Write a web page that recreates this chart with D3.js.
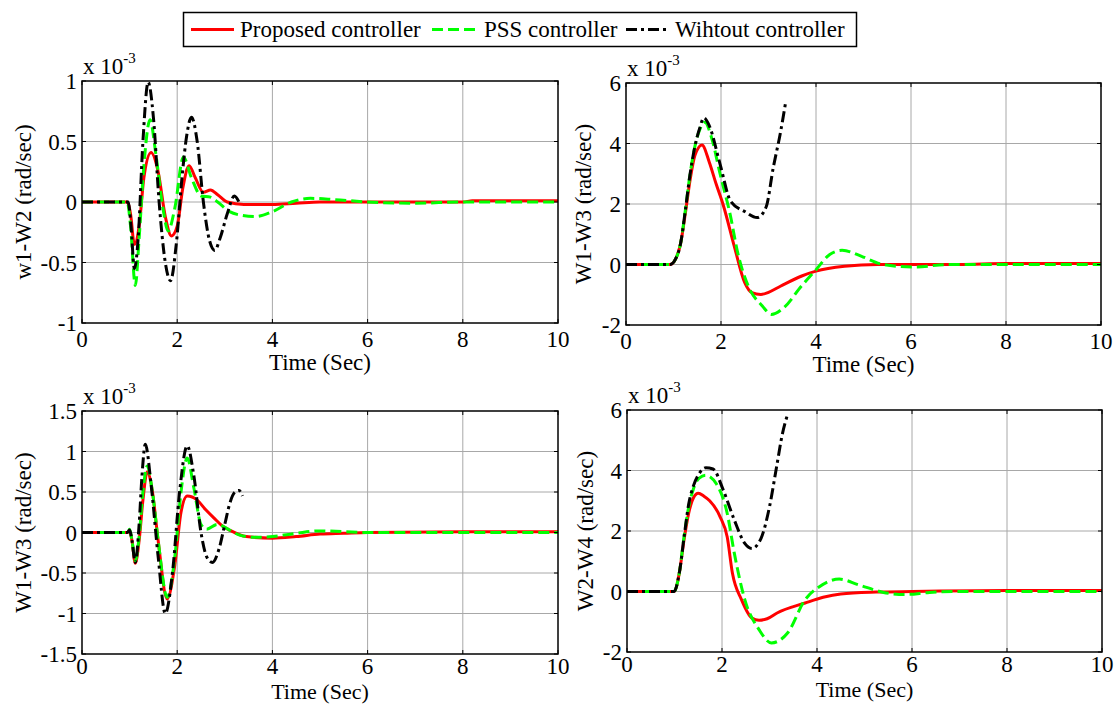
<!DOCTYPE html>
<html>
<head>
<meta charset="utf-8">
<script src="https://cdn.jsdelivr.net/npm/d3@7"></script>
<style>
  html, body { margin: 0; padding: 0; background: #fff; }
</style>
</head>
<body>
<svg id="chart" width="1117" height="704"></svg>
<script>
// ---------------- DATA ----------------
const seriesNames = ["Proposed controller", "PSS controller", "Wihtout controller"];
const xTicks = [0, 2, 4, 6, 8, 10];
const yLabels = ["w1-W2 (rad/sec)", "W1-W3 (rad/sec)", "W1-W3 (rad/sec)", "W2-W4 (rad/sec)"];
const xLabel = "Time (Sec)";
const yDomains = [[-1, 1], [-2, 6], [-1.5, 1.5], [-2, 6]];
const yTicks1 = [-1, -0.5, 0, 0.5, 1];
const yTicks2 = [-2, 0, 2, 4, 6];
const yTicks3 = [-1.5, -1, -0.5, 0, 0.5, 1, 1.5];
const yTicks4 = [-2, 0, 2, 4, 6];

// Panel 1: w1-W2 (x 1e-3)
const p1PropT = [0, 0.95, 1.02, 1.1, 1.2, 1.3, 1.45, 1.6, 1.75, 1.88, 2.0, 2.12, 2.25, 2.38, 2.55, 2.7, 2.85, 3.05, 3.4, 4.0, 4.5, 5, 6, 8, 8.2, 10];
const p1Prop  = [0, 0, -0.1, -0.35, -0.2, 0.2, 0.41, 0.25, -0.12, -0.28, -0.2, 0.12, 0.3, 0.2, 0.08, 0.1, 0.06, 0.0, -0.02, -0.02, -0.01, 0, 0, 0, 0.01, 0.01];
const p1PssT  = [0, 0.95, 1.02, 1.12, 1.2, 1.3, 1.43, 1.55, 1.7, 1.81, 1.95, 2.13, 2.3, 2.5, 2.7, 2.85, 3.1, 3.35, 3.65, 4.0, 4.4, 4.8, 5.3, 6, 7, 8, 10];
const p1Pss   = [0, 0, -0.2, -0.69, -0.3, 0.3, 0.68, 0.4, -0.05, -0.24, -0.05, 0.37, 0.2, 0.05, 0.04, 0.0, -0.08, -0.11, -0.12, -0.08, 0.0, 0.03, 0.02, 0, -0.01, 0, 0];
const p1NoT   = [0, 0.97, 1.03, 1.1, 1.18, 1.28, 1.39, 1.5, 1.62, 1.75, 1.86, 1.98, 2.1, 2.2, 2.3, 2.42, 2.55, 2.68, 2.79, 2.9, 3.05, 3.2, 3.32];
const p1No    = [0, 0, -0.2, -0.55, -0.3, 0.5, 0.99, 0.7, 0.0, -0.5, -0.65, -0.35, 0.2, 0.55, 0.7, 0.5, 0.0, -0.32, -0.4, -0.3, -0.1, 0.05, -0.02];

// Panel 2: W1-W3 (x 1e-3)
const p2PropT = [0, 0.93, 1.05, 1.15, 1.25, 1.35, 1.45, 1.6, 1.75, 1.9, 2.05, 2.28, 2.5, 2.65, 2.84, 3.0, 3.25, 3.7, 4.0, 4.6, 5.3, 6, 7, 8, 10];
const p2Prop  = [0, 0, 0.2, 0.7, 1.7, 2.8, 3.6, 3.95, 3.4, 2.65, 1.95, 0.6, -0.6, -0.93, -0.99, -0.92, -0.72, -0.38, -0.22, -0.06, 0, 0, 0, 0.03, 0.03];
const p2PssT  = [0, 0.93, 1.05, 1.15, 1.25, 1.35, 1.45, 1.55, 1.66, 1.8, 1.98, 2.2, 2.35, 2.57, 2.87, 3.06, 3.32, 3.69, 4.0, 4.29, 4.55, 4.96, 5.34, 5.7, 6.08, 6.8, 8, 10];
const p2Pss   = [0, 0, 0.2, 0.7, 1.8, 3.0, 3.9, 4.45, 4.7, 4.2, 3.0, 1.6, 0.4, -0.7, -1.37, -1.65, -1.43, -0.72, -0.17, 0.33, 0.47, 0.27, 0.03, -0.06, -0.08, 0.0, 0.0, 0.0];
const p2NoT   = [0, 0.93, 1.05, 1.15, 1.25, 1.35, 1.45, 1.55, 1.64, 1.75, 1.98, 2.2, 2.5, 2.76, 2.95, 3.1, 3.25, 3.36];
const p2No    = [0, 0, 0.2, 0.7, 1.8, 3.0, 3.9, 4.5, 4.85, 4.6, 3.32, 2.1, 1.75, 1.55, 1.9, 3.2, 4.35, 5.35];

// Panel 3: W1-W3 (x 1e-3)
const p3PropT = [0, 0.95, 1.0, 1.05, 1.12, 1.2, 1.28, 1.37, 1.48, 1.6, 1.79, 1.95, 2.08, 2.21, 2.42, 2.6, 2.77, 2.95, 3.1, 3.45, 4.0, 4.5, 5.0, 5.5, 6, 8, 10];
const p3Prop  = [0, 0, 0.02, -0.1, -0.38, -0.1, 0.4, 0.75, 0.5, -0.1, -0.82, -0.4, 0.25, 0.45, 0.4, 0.28, 0.18, 0.08, 0.03, -0.05, -0.07, -0.05, -0.02, -0.01, 0, 0.01, 0.01];
const p3PssT  = [0, 0.95, 1.0, 1.05, 1.12, 1.2, 1.28, 1.37, 1.48, 1.6, 1.79, 1.95, 2.08, 2.21, 2.35, 2.5, 2.62, 2.84, 3.1, 3.3, 3.62, 4.0, 4.5, 5.0, 5.5, 6, 8, 10];
const p3Pss   = [0, 0, 0.04, -0.1, -0.35, -0.05, 0.5, 0.82, 0.5, -0.1, -0.8, -0.3, 0.5, 0.92, 0.55, 0.1, 0.04, 0.1, 0.03, -0.03, -0.06, -0.05, -0.01, 0.02, 0.01, 0, 0, 0];
const p3NoT   = [0, 0.95, 1.0, 1.05, 1.12, 1.2, 1.26, 1.33, 1.45, 1.6, 1.75, 1.9, 2.05, 2.21, 2.35, 2.5, 2.62, 2.74, 2.88, 3.0, 3.1, 3.2, 3.3, 3.37];
const p3No    = [0, 0, 0.03, -0.1, -0.37, 0.1, 0.7, 1.09, 0.6, -0.3, -1.0, -0.5, 0.5, 1.07, 0.7, 0.0, -0.3, -0.37, -0.2, 0.1, 0.35, 0.49, 0.52, 0.45];

// Panel 4: W2-W4 (x 1e-3)
const p4PropT = [0, 0.99, 1.1, 1.2, 1.3, 1.4, 1.5, 1.62, 1.74, 1.96, 2.11, 2.22, 2.41, 2.63, 2.78, 2.95, 3.16, 3.75, 4.13, 4.5, 5.25, 6, 8, 10];
const p4Prop  = [0, 0, 0.6, 1.7, 2.6, 3.1, 3.25, 3.15, 3.0, 2.47, 1.8, 0.6, -0.27, -0.88, -0.95, -0.9, -0.71, -0.38, -0.19, -0.08, -0.02, 0, 0.03, 0.03];
const p4PssT  = [0, 0.99, 1.1, 1.2, 1.3, 1.4, 1.52, 1.66, 1.88, 2.11, 2.26, 2.48, 2.78, 3.04, 3.38, 3.75, 4.05, 4.47, 4.88, 5.4, 5.85, 6.37, 7, 8, 10];
const p4Pss   = [0, 0, 0.6, 1.8, 2.8, 3.4, 3.75, 3.84, 3.56, 2.58, 1.26, -0.27, -1.26, -1.7, -1.37, -0.27, 0.16, 0.41, 0.22, -0.03, -0.1, -0.03, 0.0, 0.0, 0.0];
const p4NoT   = [0, 0.99, 1.1, 1.21, 1.3, 1.4, 1.52, 1.66, 1.81, 2.03, 2.26, 2.48, 2.63, 2.82, 3.0, 3.16, 3.27, 3.37];
const p4No    = [0, 0, 0.6, 1.9, 2.9, 3.5, 3.9, 4.09, 4.05, 3.34, 2.36, 1.59, 1.42, 1.75, 2.8, 4.22, 5.2, 5.8];

// ---------------- LAYOUT / STYLE ----------------
const FONT_FAMILY = "'Liberation Serif', 'Times New Roman', Times, 'DejaVu Serif', serif";
const styles = [
  { color: "#ff0000", dash: null },
  { color: "#00ff00", dash: "11,5" },
  { color: "#000000", dash: "11,4,3,4" }
];
const panels = [
  { box: [82, 558, 81, 323], yTicks: yTicks1, ylx: 31, tkY: 24, xlY: 47, xlF: 23, series: [[p1PropT, p1Prop], [p1PssT, p1Pss], [p1NoT, p1No]] },
  { box: [626, 1101, 83, 325], yTicks: yTicks2, ylx: 591, tkY: 24, xlY: 47, xlF: 23, series: [[p2PropT, p2Prop], [p2PssT, p2Pss], [p2NoT, p2No]] },
  { box: [82, 558, 411, 654], yTicks: yTicks3, ylx: 31, tkY: 20, xlY: 45, xlF: 22, series: [[p3PropT, p3Prop], [p3PssT, p3Pss], [p3NoT, p3No]] },
  { box: [627, 1102, 410, 652], yTicks: yTicks4, ylx: 593, tkY: 20, xlY: 45, xlF: 22, series: [[p4PropT, p4Prop], [p4PssT, p4Pss], [p4NoT, p4No]] }
];

const svg = d3.select("#chart").attr("font-family", FONT_FAMILY);
const defs = svg.append("defs");
const FONT = 23;

panels.forEach((p, i) => {
  const [x0, x1, y0, y1] = p.box;
  const x = d3.scaleLinear().domain([0, 10]).range([x0, x1]);
  const y = d3.scaleLinear().domain(yDomains[i]).range([y1, y0]);
  const g = svg.append("g");

  // grid
  g.selectAll(".gx").data(xTicks.filter(t => t > 0 && t < 10)).enter().append("line")
    .attr("x1", d => x(d)).attr("x2", d => x(d)).attr("y1", y0).attr("y2", y1)
    .attr("stroke", "#a8a8a8").attr("stroke-width", 1);
  const yd = yDomains[i];
  g.selectAll(".gy").data(p.yTicks.filter(t => t > yd[0] && t < yd[1])).enter().append("line")
    .attr("x1", x0).attr("x2", x1).attr("y1", d => y(d)).attr("y2", d => y(d))
    .attr("stroke", "#a8a8a8").attr("stroke-width", 1);

  // clip
  defs.append("clipPath").attr("id", "clip" + i).append("rect")
    .attr("x", x0).attr("y", y0 - 1).attr("width", x1 - x0).attr("height", y1 - y0 + 2);

  const line = d3.line().x(d => x(d[0])).y(d => y(d[1])).curve(d3.curveMonotoneX);
  const lg = g.append("g").attr("clip-path", "url(#clip" + i + ")");
  p.series.forEach((s, k) => {
    const pts = s[0].map((t, j) => [t, s[1][j]]);
    lg.append("path").datum(pts).attr("d", line)
      .attr("fill", "none").attr("stroke", styles[k].color).attr("stroke-width", 3)
      .attr("stroke-dasharray", styles[k].dash).attr("stroke-linejoin", "round");
  });

  // ticks (inward on all four sides)
  const tl = 4;
  xTicks.forEach(t => {
    g.append("line").attr("x1", x(t)).attr("x2", x(t)).attr("y1", y1).attr("y2", y1 - tl).attr("stroke", "#000");
    g.append("line").attr("x1", x(t)).attr("x2", x(t)).attr("y1", y0).attr("y2", y0 + tl).attr("stroke", "#000");
  });
  p.yTicks.forEach(t => {
    g.append("line").attr("x1", x0).attr("x2", x0 + tl).attr("y1", y(t)).attr("y2", y(t)).attr("stroke", "#000");
    g.append("line").attr("x1", x1).attr("x2", x1 - tl).attr("y1", y(t)).attr("y2", y(t)).attr("stroke", "#000");
  });

  // axes box
  g.append("rect").attr("x", x0).attr("y", y0).attr("width", x1 - x0).attr("height", y1 - y0)
    .attr("fill", "none").attr("stroke", "#000").attr("stroke-width", 1.5);

  // tick labels
  g.selectAll(".xl").data(xTicks).enter().append("text")
    .attr("x", d => x(d)).attr("y", y1 + p.tkY).attr("text-anchor", "middle")
    .attr("font-size", FONT).text(d => d);
  g.selectAll(".yl").data(p.yTicks).enter().append("text")
    .attr("x", x0 - 5).attr("y", d => y(d) + 8).attr("text-anchor", "end")
    .attr("font-size", FONT).text(d => d);

  // axis labels
  g.append("text").attr("x", (x0 + x1) / 2).attr("y", y1 + p.xlY).attr("text-anchor", "middle")
    .attr("font-size", p.xlF).text(xLabel);
  g.append("text").attr("transform", `translate(${p.ylx},${(y0 + y1) / 2}) rotate(-90)`)
    .attr("text-anchor", "middle").attr("font-size", FONT).text(yLabels[i]);

  // exponent label
  const ex = g.append("text").attr("x", x0 + 1).attr("y", y0 - 7).attr("font-size", FONT);
  ex.append("tspan").text("x 10");
  ex.append("tspan").attr("font-size", 15).attr("dy", -11).text("-3");
});

// ---------------- LEGEND ----------------
const legend = svg.append("g");
legend.append("rect").attr("x", 183.5).attr("y", 12.5).attr("width", 673).attr("height", 34)
  .attr("fill", "#fff").attr("stroke", "#000").attr("stroke-width", 1.5);
const legLineX = [[191, 234], [432, 478], [626, 667]];
const legTextX = [240, 484, 675];
seriesNames.forEach((n, k) => {
  legend.append("line").attr("x1", legLineX[k][0]).attr("x2", legLineX[k][1]).attr("y1", 29.5).attr("y2", 29.5)
    .attr("stroke", styles[k].color).attr("stroke-width", 3).attr("stroke-dasharray", styles[k].dash);
  legend.append("text").attr("x", legTextX[k]).attr("y", 37).attr("font-size", FONT).text(n);
});
</script>
</body>
</html>
